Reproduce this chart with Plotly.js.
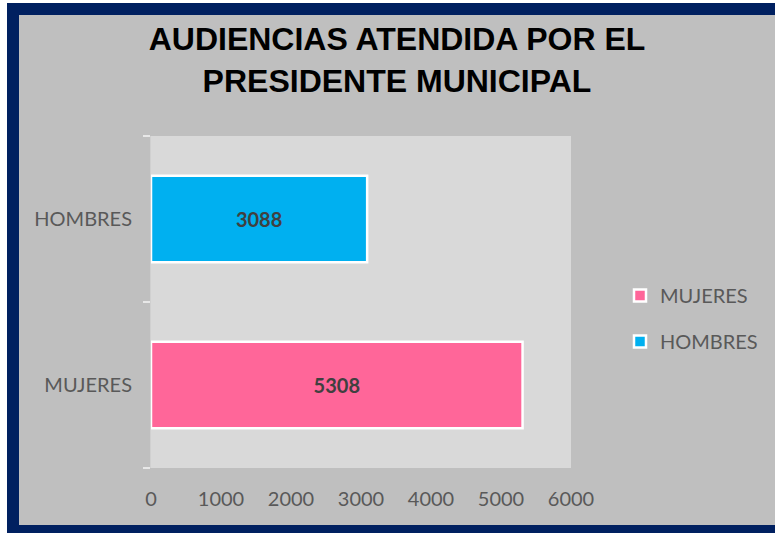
<!DOCTYPE html>
<html>
<head>
<meta charset="utf-8">
<script src="https://cdn.plot.ly/plotly-3.0.1.min.js"></script>
<style>
html,body{margin:0;padding:0;background:#ffffff;}
#chart{width:775px;height:533px;}
</style>
</head>
<body>
<div id="chart"></div>
<script>
var categories = ['MUJERES', 'HOMBRES'];
var seriesNames = ['MUJERES', 'HOMBRES'];
var seriesValues = [5308, 3088];
var seriesColors = ['#FF6699', '#00B0F0'];
var xTickValues = [0, 1000, 2000, 3000, 4000, 5000, 6000];
var titleText = 'AUDIENCIAS ATENDIDA POR EL<br>PRESIDENTE MUNICIPAL';

var W = 775, H = 533;
var mL = 151, mR = 204, mT = 136, mB = 65;
var pw = W - mL - mR, ph = H - mT - mB;
function px(x){ return (x - mL) / pw; }
function py(y){ return (H - mB - y) / ph; }

var traces = seriesNames.map(function(name, i){
  return {
    type: 'bar',
    orientation: 'h',
    name: name,
    legendgroup: name,
    y: [categories[i]],
    x: [seriesValues[i]],
    text: [String(seriesValues[i])],
    textposition: 'inside',
    insidetextanchor: 'middle',
    textangle: 0,
    constraintext: 'none',
    textfont: {family: 'Lato, sans-serif', size: 20, color: '#404040', weight: 'bold'},
    marker: {color: seriesColors[i], line: {color: '#ffffff', width: 2.5}},
    hoverinfo: 'x+y'
  };
});

var layout = {
  width: W, height: H,
  margin: {l: mL, r: mR, t: mT, b: mB, pad: 0, autoexpand: false},
  paper_bgcolor: '#ffffff',
  plot_bgcolor: '#d9d9d9',
  barmode: 'overlay',
  bargap: 0.48,
  title: {
    text: titleText,
    font: {family: 'Liberation Sans, Arial, sans-serif', size: 32, color: '#000000', weight: 'bold'},
    x: 397 / W, xref: 'container', xanchor: 'center',
    y: 1 - 50 / H, yref: 'container', yanchor: 'top'
  },
  xaxis: {
    range: [0, 6000],
    tickvals: xTickValues,
    ticktext: xTickValues.map(String),
    showgrid: false,
    zeroline: false,
    showline: false,
    ticks: '',
    ticklabelstandoff: 17,
    tickfont: {family: 'Lato, sans-serif', size: 20, color: '#595959'},
    fixedrange: true
  },
  yaxis: {
    type: 'category',
    categoryorder: 'array',
    categoryarray: categories,
    showgrid: false,
    zeroline: false,
    showline: true,
    linecolor: '#d0d0d0',
    linewidth: 1,
    ticks: 'outside',
    tickson: 'boundaries',
    ticklen: 7,
    tickcolor: '#e8e8e8',
    tickwidth: 1.5,
    ticklabelstandoff: 14,
    tickfont: {family: 'Lato, sans-serif', size: 20, color: '#595959'},
    fixedrange: true
  },
  legend: {
    xref: 'container', yref: 'container',
    x: 620 / W, xanchor: 'left',
    y: 1 - 318.5 / H, yanchor: 'middle',
    traceorder: 'grouped',
    tracegroupgap: 17,
    bgcolor: 'rgba(0,0,0,0)',
    font: {family: 'Lato, sans-serif', size: 20, color: '#595959'},
    itemwidth: 30
  },
  showlegend: true,
  shapes: [
    {
      type: 'rect', xref: 'paper', yref: 'paper', layer: 'below',
      x0: px(13), x1: px(790), y0: py(531), y1: py(9),
      fillcolor: '#bfbfbf',
      line: {color: '#002060', width: 12}
    },
    {
      type: 'rect', xref: 'paper', yref: 'paper', layer: 'below',
      x0: 0, x1: 1, y0: 0, y1: 1,
      fillcolor: '#d9d9d9',
      line: {width: 0}
    }
  ]
};

Plotly.newPlot('chart', traces, layout, {displayModeBar: false, staticPlot: true});
</script>
</body>
</html>
